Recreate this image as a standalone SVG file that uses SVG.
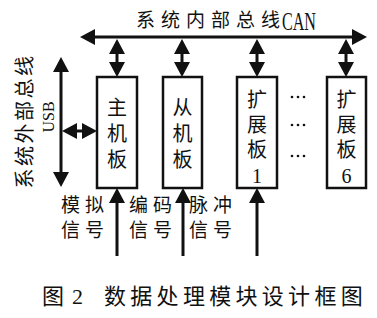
<svg xmlns="http://www.w3.org/2000/svg" width="377" height="318" viewBox="0 0 377 318">
<defs>
<marker id="ah" viewBox="0 0 15 16" refX="3" refY="8" markerWidth="15" markerHeight="16" markerUnits="userSpaceOnUse" orient="auto-start-reverse">
<path d="M0,0 L15,8 L0,16 Z" fill="#111"/>
</marker>
</defs>
<style>
.cn{font-family:"Noto Sans CJK SC","Noto Sans",sans-serif;fill:#111}
.lat{font-family:"Liberation Serif",serif;fill:#111}
.box{fill:#fff;stroke:#111;stroke-width:2.5}
.ln{stroke:#111;stroke-width:3;fill:none}
.dbl{marker-start:url(#ah);marker-end:url(#ah)}
.one{marker-end:url(#ah)}
.vt{font-size:20px;writing-mode:vertical-rl;text-orientation:upright}
.dig{font-size:20px;text-anchor:middle}
</style>
<rect width="377" height="318" fill="#fff"/>

<g id="connectors">
<line class="ln dbl" x1="92" y1="37" x2="355" y2="37"/>
<line class="ln dbl" x1="117" y1="51" x2="117" y2="65"/>
<line class="ln dbl" x1="182" y1="51" x2="182" y2="65"/>
<line class="ln dbl" x1="257" y1="51" x2="257" y2="65"/>
<line class="ln dbl" x1="346" y1="51" x2="346" y2="65"/>
<line class="ln dbl" x1="61" y1="69" x2="61" y2="175"/>
<line class="ln dbl" x1="74" y1="131" x2="85" y2="131"/>
<line class="ln one" x1="117" y1="256" x2="117" y2="200"/>
<line class="ln one" x1="183" y1="256" x2="183" y2="200"/>
<line class="ln one" x1="257" y1="256" x2="257" y2="200"/>
</g>

<g id="can-label">
<text x="136" y="27"><tspan class="cn" font-size="19" letter-spacing="6">系统内部总线</tspan><tspan class="lat" x="282" y="30" font-size="26" textLength="34" lengthAdjust="spacingAndGlyphs">CAN</tspan></text>
</g>

<g id="usb-label">
<text class="cn" transform="translate(25,121) rotate(-90)" x="0" y="7.4" font-size="20" letter-spacing="2.5" text-anchor="middle">系统外部总线</text>
<text class="lat" transform="translate(48,117) rotate(-90)" x="0" y="5.5" font-size="16" text-anchor="middle">USB</text>
</g>

<g id="main-board">
<rect class="box" x="97" y="77" width="40" height="111"/>
<text class="cn vt" x="117" y="97" letter-spacing="6">主机板</text>
</g>

<g id="slave-board">
<rect class="box" x="163" y="77" width="39" height="111"/>
<text class="cn vt" x="182.5" y="97" letter-spacing="6">从机板</text>
</g>

<g id="ext-board-1">
<rect class="box" x="237" y="77" width="40" height="111"/>
<text class="cn vt" x="257" y="89" letter-spacing="5">扩展板</text>
<text class="lat dig" x="257" y="182.5">1</text>
</g>

<g id="ellipsis">
<circle cx="292" cy="97" r="1.3" fill="#111"/><circle cx="298" cy="97" r="1.3" fill="#111"/><circle cx="304" cy="97" r="1.3" fill="#111"/>
<circle cx="292" cy="125" r="1.3" fill="#111"/><circle cx="298" cy="125" r="1.3" fill="#111"/><circle cx="304" cy="125" r="1.3" fill="#111"/>
<circle cx="292" cy="156" r="1.3" fill="#111"/><circle cx="298" cy="156" r="1.3" fill="#111"/><circle cx="304" cy="156" r="1.3" fill="#111"/>
</g>

<g id="ext-board-6">
<rect class="box" x="327" y="77" width="39" height="111"/>
<text class="cn vt" x="346.5" y="89" letter-spacing="5">扩展板</text>
<text class="lat dig" x="346.5" y="182.5">6</text>
</g>

<g id="input-labels">
<text class="cn" font-size="19" letter-spacing="5"><tspan x="61" y="212">模拟</tspan><tspan x="61" y="237">信号</tspan></text>
<text class="cn" font-size="19" letter-spacing="5"><tspan x="129" y="212">编码</tspan><tspan x="129" y="237">信号</tspan></text>
<text class="cn" font-size="19" letter-spacing="5"><tspan x="189" y="212">脉冲</tspan><tspan x="189" y="237">信号</tspan></text>
</g>

<g id="caption">
<text font-size="22" y="304"><tspan class="cn" x="42">图</tspan><tspan class="lat" x="72">2</tspan><tspan class="cn" x="104" letter-spacing="4.3">数据处理模块设计框图</tspan></text>
</g>
</svg>
